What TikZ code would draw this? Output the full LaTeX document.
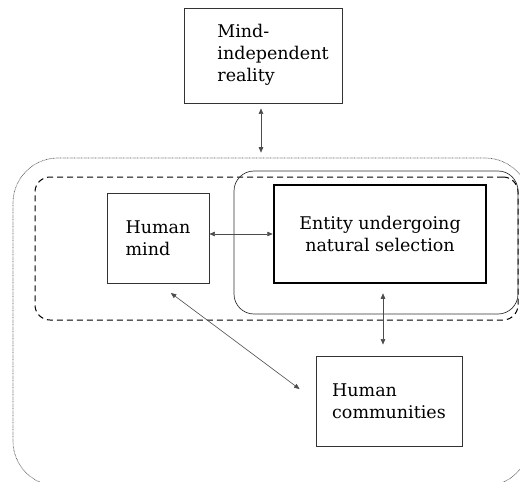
\documentclass[tikz,border=0pt]{standalone}
\usepackage{fontspec}
\setmainfont{DejaVu Serif}
\usetikzlibrary{arrows.meta,positioning}

\begin{document}
\begin{tikzpicture}[
  x=1pt, y=-1pt,
  font=\fontsize{17.5}{22}\selectfont,
  box/.style={draw=black!80, line width=0.8pt, align=left, inner sep=0pt},
  area/.style={draw=black!80, inner sep=0pt},
  link/.style={<->, draw=black!70, line width=0.6pt},
  >={Triangle[length=5.5pt,width=4.5pt]}
]
\useasboundingbox (0,0) rectangle (520,482);
\clip (0,0) rectangle (520,482);
% enclosing regions
\node[area, draw=black!65, line width=0.7pt, dash pattern=on 0.7pt off 0.7pt, rounded corners=45pt,
  minimum width=517pt, minimum height=328pt] (world) at (271.5,322) {};
\node[area, draw=black, line width=1pt, dash pattern=on 6pt off 4pt, rounded corners=15pt,
  minimum width=483pt, minimum height=143pt] (group) at (276.5,248.5) {};
\node[area, line width=0.7pt, rounded corners=20pt,
  minimum width=284pt, minimum height=143pt] (niche) at (376,242.5) {};
% boxes
\node[box, minimum width=158pt, minimum height=95pt] (reality) at (263,55.5)
  {\begin{tabular}{@{\hspace{20pt}}l@{}}Mind-\\independent\\reality\end{tabular}};
\node[box, minimum width=102pt, minimum height=90pt] (mind) at (158,238) {Human\\mind};
\node[box, align=center, line width=2.5pt, draw=black, minimum width=212pt, minimum height=98pt]
  (entity) at (380,234) {Entity undergoing\\natural selection};
\node[box, minimum width=146pt, minimum height=90pt] (comm) at (389,401) {Human\\communities};
% links
\draw[link, shorten <=5pt, shorten >=5pt] ([xshift=-2pt]reality.south) -- ([xshift=-2pt]reality.south |- world.north);
\draw[link] (mind.east |- entity.west) -- (entity.west);
\draw[link, shorten <=9pt, shorten >=11pt] ([xshift=3pt]entity.south) -- ([xshift=3pt]entity.south |- comm.north);
\draw[link, shorten <=16pt, shorten >=20pt] (mind.south) -- (comm.west);
\end{tikzpicture}
\end{document}
